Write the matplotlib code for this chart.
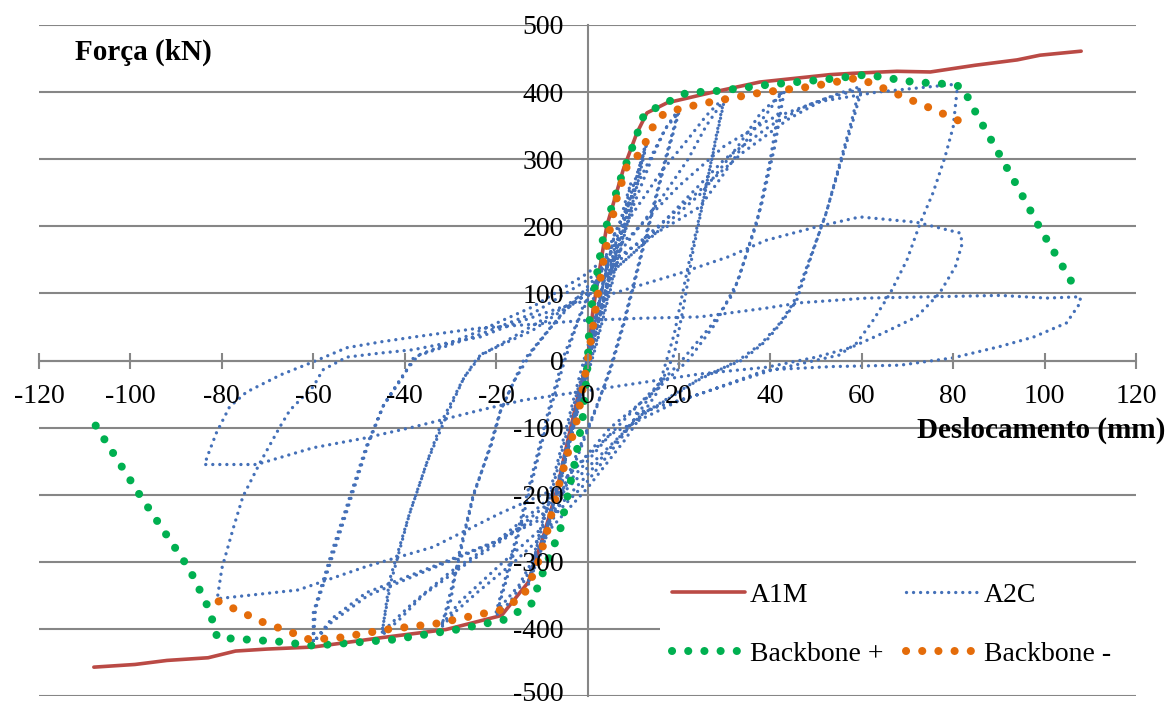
import numpy as np
import matplotlib
matplotlib.use('Agg')
import matplotlib.pyplot as plt
import matplotlib.transforms as mtransforms
from matplotlib.patches import Rectangle

plt.rcParams['font.family'] = ['Liberation Serif', 'DejaVu Serif']
plt.rcParams['axes.unicode_minus'] = False

# A1M (curva monotonica)
a1m_x = [-108, -99, -92, -83, -77, -70, -60, -45, -31, -18.8, -14.8, -13, -9.7, -6.7, -4.3, -2.1, 0,
         1.2, 4.2, 7.8, 10.8, 13, 17.4, 27.5, 37.7, 53, 58, 67.7, 75, 84.8, 94, 99, 108]
a1m_y = [-457, -453, -447, -443, -433, -430, -427, -413, -401, -380, -346, -331, -263, -193, -119, -54, 0,
         75, 200, 284, 339, 369, 384, 400, 415, 426, 428, 431, 430, 440, 448, 455, 461]

# Backbone +
bbp_x = [-107.6, -98, -87, -82.7, -81, -67.4, -60, -42.6, -28.6, -18, -12.2, -9.8, -6, -2.8, -1, 0,
         0.5, 1.6, 3.4, 5.3, 7.5, 10, 12.4, 15.4, 21.7, 29, 39.5, 53.7, 61, 71.3, 78.6, 82,
         85.2, 88.7, 94, 99, 104.5, 106.5]
bbp_y = [-97, -200, -312, -372, -413, -419, -425, -416, -401, -386, -362, -317, -253, -153, -83, -9,
         65, 110, 182, 229, 276, 321, 367, 378, 399, 402, 411, 420, 426, 415, 412, 408,
         366, 324, 260, 197, 134, 110]

# Backbone -
bbn_x = [-80.7, -77.6, -71, -64.5, -60.8, -54.2, -44, -33, -19.2, -14.1, -11.1, -8.9, -6.7, -4.3, -2.1, -0.2,
         1.2, 2.3, 3.4, 4.9, 6.4, 8.6, 11.5, 13.2, 14.7, 16.9, 20.2, 23.9, 27.5, 37.7, 48.7, 58.9,
         62.2, 68.8, 75.4, 78.7, 82]
bbn_y = [-359, -369, -390, -406, -416, -413, -401, -392, -372, -352, -307, -257, -197, -138, -83, -9,
         50, 100, 145, 195, 242, 289, 309, 332, 354, 369, 375, 381, 386, 399, 408, 421,
         413, 394, 375, 365, 355]

# A2C (ensaio ciclico), por grupos de ciclos
a2c_small = [(0, 0), (1.5, 50), (3, 100), (4.5, 150), (3, 105), (1, 45), (-1, -20), (-3, -85), (-4.5, -140),
             (-3, -95), (-1, -30), (0.5, 20), (2, 70), (4, 130), (6, 190), (4.5, 145), (2, 70), (0, 5),
             (-2, -60), (-4, -120), (-6, -185), (-4.5, -140), (-2, -70), (0, -10),
             (2, 50), (4, 110), (6, 170), (8, 230), (9.5, 265), (8, 215), (5, 135), (2, 50), (0, -10),
             (-3, -90), (-6, -170), (-8, -230), (-9.5, -265), (-8, -220), (-5, -140), (-2, -60), (0, -5)]
a2c_13 = [(2, 40), (5, 120), (8, 200), (11, 280), (13, 330), (11, 270), (8, 190), (5, 110), (2, 30),
          (-1, -40), (-4, -120), (-7, -200), (-10, -280), (-13, -335), (-11, -275), (-8, -200), (-5, -120),
          (-2, -40), (1, 20), (4, 100), (7, 180), (10, 260), (13, 325), (11, 265), (8, 185), (5, 105), (2, 25),
          (-1, -45), (-4, -125), (-7, -205), (-10, -285), (-13, -330), (-11, -270), (-8, -190), (-5, -110),
          (-2, -30)]
a2c_20 = [(0, 20), (3, 80), (6, 150), (10, 230), (14, 300), (17, 345), (20, 375), (17, 300), (14, 220),
          (11, 140), (8, 60), (5, -10), (2, -70), (-2, -140), (-6, -210), (-10, -280), (-14, -330),
          (-17, -360), (-20, -380), (-17, -310), (-14, -230), (-11, -150), (-8, -70), (-5, 0), (-2, 60),
          (2, 120), (6, 190), (10, 250), (14, 305), (17, 345), (20, 370), (17, 295), (14, 215), (11, 135),
          (8, 55), (5, -15), (1, -85), (-3, -150), (-7, -220), (-11, -285), (-15, -335), (-20, -375),
          (-17, -300), (-14, -220), (-11, -140), (-8, -60), (-5, 10)]
a2c_30 = [(-1, 80), (4, 150), (10, 220), (16, 280), (22, 330), (26, 365), (30, 393), (28, 330), (26, 260),
          (23, 160), (21, 80), (19, 10), (15, -50), (8, -120), (0, -190), (-8, -250), (-16, -300),
          (-24, -345), (-29, -375), (-32, -398), (-30.8, -367), (-28, -292), (-25, -203), (-21.4, -129),
          (-19.2, -78), (-17, -44), (-14, 0), (-8, 50), (0, 110), (8, 170), (16, 240), (22, 300), (26, 350),
          (30, 390), (28, 325), (25, 230), (22, 140), (19, 40), (16, -30), (8, -110), (0, -180), (-10, -250),
          (-20, -310), (-28, -360), (-32, -395), (-30, -360), (-28, -285), (-25, -200), (-21, -125),
          (-19, -75), (-16, -30), (-12, 15)]
a2c_43 = [(-5, 75), (0, 100), (10, 170), (20, 210), (24.6, 229), (30, 280), (36, 340), (40, 375), (42.5, 402),
          (40, 300), (37, 204), (31.9, 100), (26.8, 50), (20, -5), (12, -60), (5, -110), (0, -150),
          (-8, -210), (-18, -265), (-28, -310), (-36, -350), (-41, -385), (-45, -410), (-43.3, -327),
          (-38.9, -227), (-35.2, -153), (-31.7, -88), (-27.3, -29), (-24, 5), (-15, 40), (-5, 80), (5, 130),
          (15, 190), (25, 250), (33, 320), (38, 370), (43, 400), (41, 320), (38, 230), (33, 120), (28, 55),
          (22, 0), (14, -50), (5, -100), (0, -140), (-10, -215), (-20, -270), (-30, -315), (-38, -360),
          (-45, -405), (-43, -330), (-39, -230), (-35, -150), (-31, -85), (-27, -25), (-23, 10)]
a2c_60 = [(-12, 45), (0, 100), (10, 160), (20, 230), (30, 300), (40, 350), (48, 380), (55, 398), (59.6, 408),
          (58, 363), (55.2, 294), (52.4, 224), (48.7, 150), (45.8, 90), (42.8, 60), (39.2, 30), (34, 1),
          (25, -25), (12, -80), (0, -160), (-10, -230), (-20, -270), (-34, -310), (-48, -350), (-56, -390),
          (-60, -420), (-60, -376), (-55.6, -278), (-52, -203), (-48.4, -128), (-44.8, -69), (-40, -20),
          (-38, 5), (-25, 35), (-12, 70), (0, 120), (12, 180), (24, 250), (34, 310), (44, 360), (52, 390),
          (60, 405), (58, 355), (55, 285), (52, 215), (48, 140), (45, 85), (42, 55), (38, 25), (33, 0),
          (24, -30), (10, -90), (0, -170), (-7.6, -228), (-19.2, -267), (-33.8, -307), (-48.4, -346),
          (-56, -385), (-60, -420), (-59.5, -370), (-55, -275), (-51.5, -200), (-48, -125), (-44.5, -65),
          (-40, -18), (-37, 8)]
a2c_82 = [(-25, 40), (-12, 80), (0, 130), (10, 190), (20, 260), (30, 320), (40, 360), (50, 385), (63.4, 400),
          (72, 406), (81, 412), (80, 348), (78.2, 303), (75.6, 250), (72.8, 205), (69.9, 150), (66.2, 100),
          (62.5, 60), (58.9, 26), (55, 8), (40, -15), (20, -60), (5, -110), (-7.6, -193), (-19.2, -228),
          (-33.8, -278), (-48.4, -307), (-63.3, -342), (-81, -355), (-80, -310), (-77.5, -250),
          (-75.4, -203), (-71.7, -153), (-67.3, -99), (-65.1, -74), (-60, -39), (-57.9, -14), (-52.7, 5),
          (-45.4, 11), (-38.2, 16), (-30.8, 26), (-23.5, 35), (-16, 55), (-5.4, 80), (5.6, 100), (20.2, 130),
          (31, 155), (39, 179), (50, 199), (59.6, 214), (72, 206), (81.5, 190), (82, 175), (80.5, 140),
          (77, 100), (72, 65), (64.7, 41), (57.5, 19), (50, 5), (39.2, -10), (24.6, -20), (0, -45),
          (-14, -59), (-23.5, -74), (-38, -99), (-49, -116), (-60, -130), (-72.4, -155), (-83.8, -155)]
a2c_108 = [(-83, -140), (-81.2, -108), (-78.3, -69), (-74.6, -47), (-67, -21), (-60, -2), (-52.7, 19),
           (-45, 28), (-38, 35), (-24, 48), (-10, 55), (0, 60), (12, 63), (24.6, 65), (39, 78), (46.5, 86),
           (61, 93), (75.6, 95), (90.3, 97), (100.5, 93), (107.8, 95), (107.8, 86), (104.8, 56), (97.6, 35),
           (90.3, 21), (80, 4), (68.4, -7), (53.7, -9), (39.2, -14), (24.6, -50), (10, -80)]

a2c = np.array(a2c_small + a2c_13 + a2c_20 + a2c_30 + a2c_43 + a2c_60 + a2c_82 + a2c_108)

x_ticks = list(range(-120, 121, 20))
y_ticks = list(range(-500, 501, 100))

grid_color = '#868686'

fig = plt.figure(figsize=(11.67, 7.06), dpi=100)
ax = fig.add_axes([39 / 1167, 1 - 696 / 706, (1136 - 39) / 1167, (696 - 25) / 706])
ax.set_xlim(-120, 120)
ax.set_ylim(-500, 500)

# grade horizontal
for yv in y_ticks:
    ax.axhline(yv, color=grid_color, lw=1.5, zorder=0.5)

for side in ['top', 'right']:
    ax.spines[side].set_visible(False)
ax.spines['left'].set_position(('data', 0))
ax.spines['bottom'].set_position(('data', 0))
for side in ['left', 'bottom']:
    ax.spines[side].set_color(grid_color)
    ax.spines[side].set_linewidth(1.5)
    ax.spines[side].set_zorder(0.6)

ax.set_xticks(x_ticks)
ax.set_yticks(y_ticks)
ax.tick_params(axis='x', direction='inout', length=12, width=1.5, color=grid_color,
               labelsize=20, pad=11)
ax.tick_params(axis='y', length=0, labelsize=20, pad=17)
ax.xaxis.set_zorder(5)
ax.yaxis.set_zorder(5)

# -500 um pouco acima para nao cortar na borda
lbl_bottom = ax.get_yticklabels()[0]
lbl_bottom.set_transform(lbl_bottom.get_transform() +
                         mtransforms.ScaledTranslation(0, 3 / 72, fig.dpi_scale_trans))

# series
l_a1m, = ax.plot(a1m_x, a1m_y, color='#BA4A45', lw=2.6, solid_capstyle='round', zorder=2, label='A1M')
l_a2c, = ax.plot(a2c[:, 0], a2c[:, 1], color='#4470B8', lw=2.4, linestyle=(0, (0.01, 2.1)),
                 dash_capstyle='round', zorder=3, label='A2C')
l_bbp, = ax.plot(bbp_x, bbp_y, color='#00B050', lw=5.8, linestyle=(0, (0.01, 2.0)),
                 dash_capstyle='round', zorder=4, label='Backbone +')
l_bbn, = ax.plot(bbn_x, bbn_y, color='#E46C0A', lw=5.8, linestyle=(0, (0.01, 2.0)),
                 dash_capstyle='round', zorder=4.5, label='Backbone -')

# fundo branco da legenda
fig.patches.append(Rectangle((660 / 1167, 1 - 688 / 706), (1138 - 660) / 1167, (688 - 575) / 706,
                             transform=fig.transFigure, facecolor='white', edgecolor='none', zorder=1))
ax.set_zorder(0)
ax.patch.set_visible(False)

leg = fig.legend([l_a1m, l_bbp, l_a2c, l_bbn], ['A1M', 'Backbone +', 'A2C', 'Backbone -'],
                 loc='upper left', bbox_to_anchor=(664 / 1167, 1 - 574 / 706),
                 ncol=2, fontsize=20, frameon=False, handlelength=2.6,
                 handletextpad=0.2, columnspacing=0.8, labelspacing=1.2, borderpad=0.3, borderaxespad=0)
leg.set_zorder(10)

fig.text(75 / 1167, 1 - 52 / 706, 'Força (kN)', fontsize=21, fontweight='bold', ha='left', va='center')
fig.text(1165 / 1167, 1 - 430 / 706, 'Deslocamento (mm)', fontsize=21, fontweight='bold',
         ha='right', va='center')

fig.savefig('out.png', dpi=100)
